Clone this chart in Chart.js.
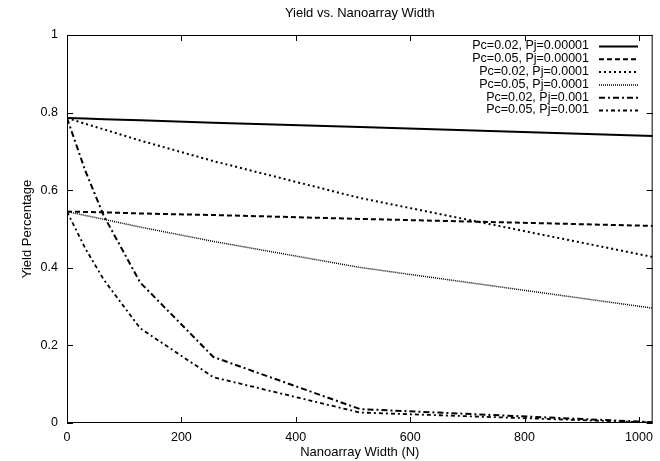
<!DOCTYPE html>
<html>
<head>
<meta charset="utf-8">
<script src="https://cdn.jsdelivr.net/npm/chart.js@4.4.1/dist/chart.umd.min.js"></script>
<style>
  html, body { margin: 0; padding: 0; background: #fff; }
  #wrap { width: 660px; height: 461px; }
</style>
</head>
<body>
<div id="wrap"><canvas id="c" width="660" height="461"></canvas></div>
<script>
// ---- data ----
const chartTitle = 'Yield vs. Nanoarray Width';
const xTitle = 'Nanoarray Width (N)';
const yTitle = 'Yield Percentage';
const widths = [0, 32, 64, 128, 256, 512, 1024];
const seriesLabels = [
  'Pc=0.02, Pj=0.00001',
  'Pc=0.05, Pj=0.00001',
  'Pc=0.02, Pj=0.0001',
  'Pc=0.05, Pj=0.0001',
  'Pc=0.02, Pj=0.001',
  'Pc=0.05, Pj=0.001'
];
const pc02pj00001 = [0.786, 0.785, 0.783, 0.780, 0.774, 0.763, 0.740];
const pc05pj00001 = [0.545, 0.544, 0.543, 0.540, 0.536, 0.526, 0.508];
const pc02pj0001  = [0.786, 0.771, 0.757, 0.728, 0.675, 0.580, 0.428];
const pc05pj0001  = [0.545, 0.535, 0.525, 0.505, 0.468, 0.401, 0.296];
const pc02pj001   = [0.786, 0.650, 0.535, 0.362, 0.170, 0.036, 0.002];
const pc05pj001   = [0.545, 0.450, 0.370, 0.244, 0.118, 0.027, 0.001];
const xTicks = [0, 200, 400, 600, 800, 1000];
const yTicks = [0, 0.2, 0.4, 0.6, 0.8, 1];
const yTickLabels = ['0', '0.2', '0.4', '0.6', '0.8', '1'];

// ---- styles ----
const seriesValues = [pc02pj00001, pc05pj00001, pc02pj0001, pc05pj0001, pc02pj001, pc05pj001];
const dashes = [[], [5, 3], [2, 3], [1, 1], [6, 3, 2, 3], [4, 3, 2, 3]];
const widthsPx = [2, 2, 2, 1.5, 2, 1.8];
const FONT = '"Liberation Sans", Arial, Helvetica, sans-serif';

const datasets = seriesValues.map((vals, i) => ({
  label: seriesLabels[i],
  data: widths.map((w, j) => ({ x: w, y: vals[j] })),
  borderColor: '#000',
  backgroundColor: '#000',
  borderWidth: widthsPx[i],
  borderDash: dashes[i],
  pointRadius: 0,
  tension: 0,
  fill: false
}));

const framePlugin = {
  id: 'frame',
  afterDraw(chart) {
    const { ctx, chartArea: a, scales } = chart;
    ctx.save();
    ctx.strokeStyle = '#000';
    ctx.lineWidth = 1;
    ctx.setLineDash([]);
    ctx.strokeRect(a.left + 0.5, a.top + 0.5, a.right - a.left - 1, a.bottom - a.top - 1);
    const tl = 6;
    ctx.beginPath();
    xTicks.forEach(v => {
      const x = Math.round(scales.x.getPixelForValue(v)) + 0.5;
      ctx.moveTo(x, a.bottom); ctx.lineTo(x, a.bottom - tl);
      ctx.moveTo(x, a.top); ctx.lineTo(x, a.top + tl);
    });
    yTicks.forEach(v => {
      const y = Math.round(scales.y.getPixelForValue(v)) + 0.5;
      ctx.moveTo(a.left, y); ctx.lineTo(a.left + tl, y);
      ctx.moveTo(a.right, y); ctx.lineTo(a.right - tl, y);
    });
    ctx.stroke();

    // titles
    ctx.fillStyle = '#000';
    ctx.font = '13px ' + FONT;
    ctx.textAlign = 'center';
    ctx.textBaseline = 'middle';
    const cx = (a.left + a.right) / 2;
    ctx.fillText(chartTitle, cx, 13);
    ctx.fillText(xTitle, cx, 452);
    ctx.save();
    ctx.translate(27, (a.top + a.bottom) / 2);
    ctx.rotate(-Math.PI / 2);
    ctx.fillText(yTitle, 0, 0);
    ctx.restore();

    // legend
    ctx.textAlign = 'right';
    ctx.font = '12.5px ' + FONT;
    chart.data.datasets.forEach((ds, i) => {
      const y = 46 + i * 12.8;
      ctx.fillStyle = '#000';
      ctx.fillText(ds.label, 589, y);
      ctx.beginPath();
      ctx.setLineDash(ds.borderDash);
      ctx.lineWidth = ds.borderWidth;
      ctx.moveTo(599, y + 0.5);
      ctx.lineTo(638, y + 0.5);
      ctx.stroke();
    });
    ctx.restore();
  }
};

new Chart(document.getElementById('c'), {
  type: 'line',
  data: { datasets },
  plugins: [framePlugin],
  options: {
    responsive: false,
    animation: false,
    devicePixelRatio: 1,
    layout: { padding: { top: 35, right: 7, left: 0, bottom: 0 } },
    plugins: { legend: { display: false }, title: { display: false }, tooltip: { enabled: false } },
    scales: {
      x: {
        type: 'linear',
        min: 0, max: 1024,
        grid: { display: false, drawTicks: false },
        border: { display: false },
        afterBuildTicks: s => { s.ticks = xTicks.map(v => ({ value: v })); },
        afterFit: s => { s.height = 38; },
        ticks: { color: '#000', font: { family: FONT, size: 12.5 }, padding: 7, maxRotation: 0, autoSkip: false,
                 callback: v => String(v) }
      },
      y: {
        type: 'linear',
        min: 0, max: 1,
        grid: { display: false, drawTicks: false },
        border: { display: false },
        afterBuildTicks: s => { s.ticks = yTicks.map(v => ({ value: v })); },
        afterFit: s => { s.width = 67; },
        ticks: { color: '#000', font: { family: FONT, size: 12.5 }, padding: 9, autoSkip: false,
                 callback: (v) => yTickLabels[yTicks.findIndex(t => Math.abs(t - v) < 1e-9)] }
      }
    }
  }
});
</script>
</body>
</html>
